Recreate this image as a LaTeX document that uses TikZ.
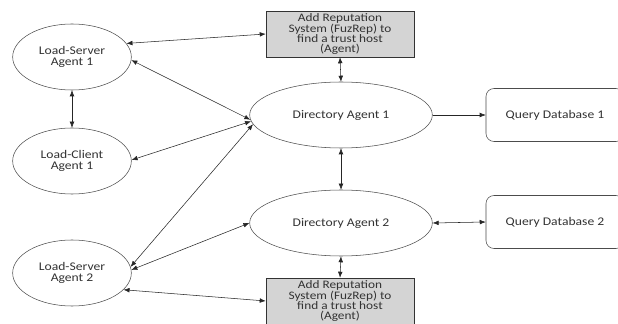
\documentclass[tikz,border=0pt]{standalone}
\usepackage{fontspec}
\setmainfont{Carlito}[FakeStretch=1.16]
\usepackage{tikz}
\usetikzlibrary{arrows.meta,shapes.geometric}

\begin{document}
\begin{tikzpicture}[x=0.75pt,y=-0.75pt,>={Latex[length=4.5pt,width=3.5pt]},
		agent/.style={ellipse,draw=black!70,thin,align=center,minimum width=89pt,minimum height=49.5pt,inner sep=0pt,font=\fontsize{8.8}{8.7}\selectfont\color{black!80}},
		diragent/.style={agent,minimum width=137pt},
		repbox/.style={rectangle,draw=black!80,fill=black!17,align=center,minimum width=111pt,minimum height=34.5pt,inner sep=0pt,font=\fontsize{8.6}{7.6}\selectfont\color{black!80}},
		dbbox/.style={rectangle,rounded corners=6pt,draw=black!70,thin,minimum width=103.5pt,minimum height=39.75pt,inner sep=0pt,font=\fontsize{8.8}{8.5}\selectfont\color{black!80}},
		link/.style={thin,black!85}]
  				\useasboundingbox (0,0) rectangle (618,324);
  				\clip (0,0) rectangle (618,324);
  				\fill[white] (0,0) rectangle (618,324);
  				\node[agent] (ls1) at (72,57) {Load-Server\\Agent 1};
  				\node[agent] (lc1) at (72,161) {Load-Client\\Agent 1};
  				\node[agent] (ls2) at (72,273) {Load-Server\\Agent 2};
  				\node[diragent] (da1) at (341,115) {Directory Agent 1};
  				\node[diragent] (da2) at (341,223) {Directory Agent 2};
  				\node[repbox] (rep1) at (340,34) {Add Reputation\\System (FuzRep) to\\find a trust host\\(Agent)};
  				\node[repbox] (rep2) at (340,301) {Add Reputation\\System (FuzRep) to\\find a trust host\\(Agent)};
  				\node[dbbox] (qd1) at (555,115) {Query Database 1};
  				\node[dbbox] (qd2) at (555,222) {Query Database 2};
  				\draw[link,<->] (ls1.14) -- (rep1.west);
  				\draw[link,<->] (ls1.-3) -- (da1.183);
  				\draw[link,<->] (ls1.south) -- (lc1.north);
  				\draw[link,<->] (lc1.1) -- (da1.184);
  				\draw[link,<->] (ls2.6) -- (da1.186);
  				\draw[link,<->] (ls2.3) -- (da2.west);
  				\draw[link,<->] (ls2.-18) -- (rep2.west);
  				\draw[link,<->] (rep1.south) -- (da1.north);
  				\draw[link,<->] (da1.south) -- (da2.north);
  				\draw[link,<->] (da2.south) -- (rep2.north);
  				\draw[link,->] (da1.east) -- (qd1.west);
  				\draw[link,<->] (da2.east) -- (qd2.west);
			\end{tikzpicture}
\end{document}
